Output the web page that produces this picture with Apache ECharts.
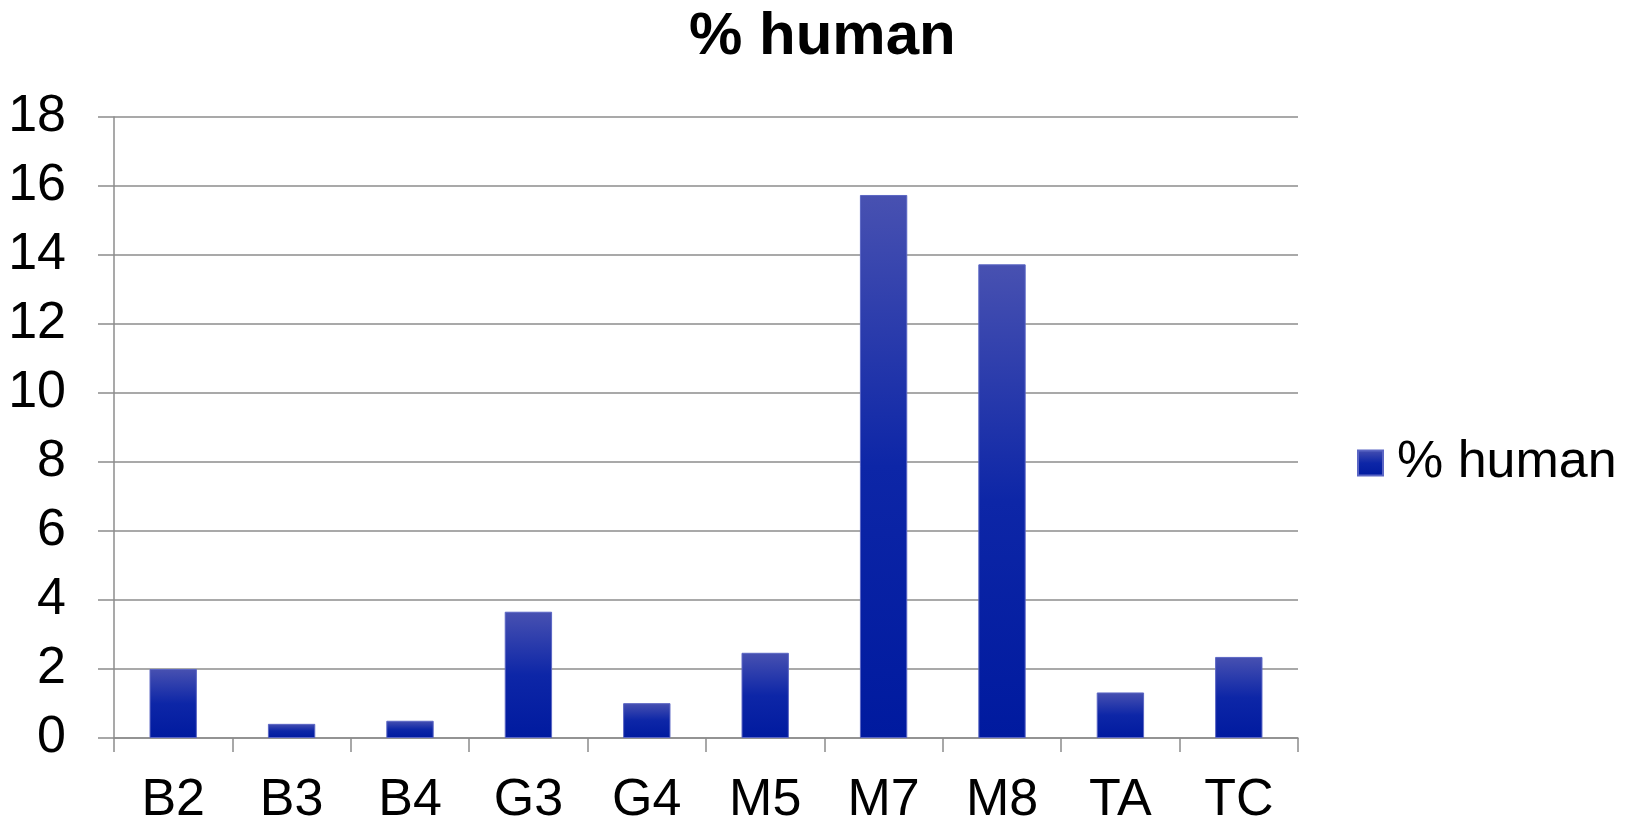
<!DOCTYPE html>
<html>
<head>
<meta charset="utf-8">
<script src="https://cdn.jsdelivr.net/npm/echarts@6/dist/echarts.min.js"></script>
<style>
html,body{margin:0;padding:0;background:#fff;}
#chart{width:1630px;height:824px;}
</style>
</head>
<body>
<div id="chart"></div>
<script>
const categories = ['B2','B3','B4','G3','G4','M5','M7','M8','TA','TC'];
const humanValues = [2.0, 0.41, 0.5, 3.66, 1.01, 2.47, 15.74, 13.73, 1.32, 2.35];
const seriesName = '% human';
const chartTitle = '% human';

const FONT = 'Liberation Sans, Arial, sans-serif';
const chart = echarts.init(document.getElementById('chart'));
const barGradient = new echarts.graphic.LinearGradient(0, 0, 0, 1, [
  {offset: 0, color: '#4851b1'},
  {offset: 0.5, color: '#0d26a7'},
  {offset: 1, color: '#001a9f'}
]);
chart.setOption({
  animation: false,
  backgroundColor: '#ffffff',
  title: {
    text: chartTitle,
    left: 684,
    top: 2,
    textStyle: {fontFamily: FONT, fontSize: 60, fontWeight: 'bold', color: '#000'}
  },
  legend: {
    data: [seriesName],
    left: 1352,
    top: 432,
    icon: 'rect',
    itemWidth: 25,
    itemHeight: 25,
    textStyle: {fontFamily: FONT, fontSize: 52, color: '#000', padding: [0, 0, 0, 9]}
  },
  grid: {left: 114, right: 332, top: 117, bottom: 86, containLabel: false, outerBoundsMode: 'none'},
  xAxis: {
    type: 'category',
    data: categories,
    axisLine: {lineStyle: {color: '#8c8c8c', width: 1.5}},
    axisTick: {show: true, length: 14, lineStyle: {color: '#8c8c8c', width: 1.5}},
    axisLabel: {fontFamily: FONT, fontSize: 52, color: '#000', margin: 37},
    splitLine: {show: false}
  },
  yAxis: {
    type: 'value',
    min: 0,
    max: 18,
    interval: 2,
    axisLine: {show: true, lineStyle: {color: '#8c8c8c', width: 1.5}},
    axisTick: {show: true, length: 16, lineStyle: {color: '#8c8c8c', width: 1.5}},
    axisLabel: {fontFamily: FONT, fontSize: 52, color: '#000', margin: 48},
    splitLine: {lineStyle: {color: '#8c8c8c', width: 1.5}}
  },
  series: [{
    name: seriesName,
    type: 'bar',
    data: humanValues,
    barCategoryGap: '60%',
    itemStyle: {color: barGradient, borderColor: '#5b66c4', borderWidth: 1}
  }]
});
</script>
</body>
</html>
